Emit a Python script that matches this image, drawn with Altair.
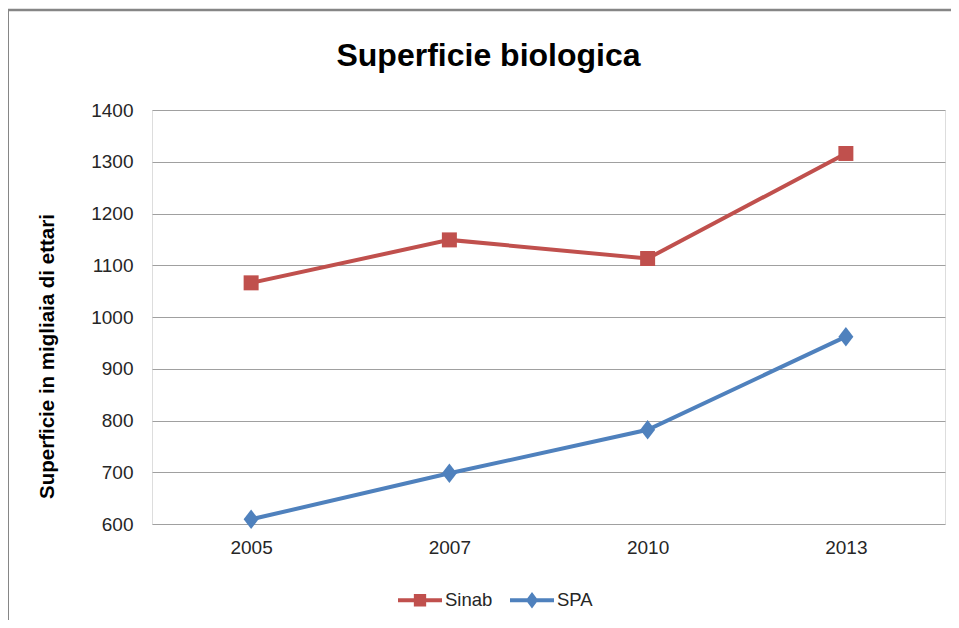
import altair as alt
import pandas as pd

years = ["2005", "2007", "2010", "2013"]
sinab = [1066, 1149, 1113, 1316]
spa = [609, 698, 782, 962]
series_names = ["Sinab", "SPA"]
series_colors = ["#C0504D", "#4F81BD"]
y_ticks = [600, 700, 800, 900, 1000, 1100, 1200, 1300, 1400]

rows = []
for name, vals in zip(series_names, [sinab, spa]):
    for yr, v in zip(years, vals):
        rows.append({"anno": yr, "valore": v, "serie": name})
df = pd.DataFrame(rows)

FONT = "Liberation Sans"
TXT = "#262626"

diamond = "M0,-1.3L1,0L0,1.3L-1,0Z"
leg_square = "M-1,-0.09H1V0.09H-1Z M-0.28,-0.28H0.28V0.28H-0.28Z"
leg_diamond = "M-1,-0.09H1V0.09H-1Z M0,-0.37L0.28,0L0,0.37L-0.28,0Z"

x_enc = alt.X("anno:O", sort=years,
              scale=alt.Scale(type="point", padding=0.5),
              axis=alt.Axis(title=None, labelAngle=0, ticks=False, domain=False,
                            grid=False, labelPadding=14, labelFontSize=19,
                            labelFont=FONT, labelColor=TXT))
y_enc = alt.Y("valore:Q",
              scale=alt.Scale(domain=[600, 1400], nice=False, zero=False),
              axis=alt.Axis(title="Superficie in migliaia di ettari", values=y_ticks,
                            format="d",
                            ticks=False, domain=False, grid=True, gridColor="#a0a0a0",
                            gridWidth=1, labelPadding=19, labelFontSize=19,
                            labelFont=FONT, labelColor=TXT,
                            titleFont=FONT, titleFontSize=20.5, titleFontWeight="bold",
                            titleColor="#000000", titleAngle=-90, titleBaseline="middle",
                            titleAlign="center", titleX=-105, titleY=246))

base = alt.Chart(df)

lines = base.mark_line(strokeWidth=4).encode(
    x=x_enc, y=y_enc,
    color=alt.Color("serie:N", scale=alt.Scale(domain=series_names, range=series_colors),
                    legend=None),
)

points = base.mark_point(filled=True, opacity=1, size=225).encode(
    x=x_enc, y=y_enc,
    color=alt.Color("serie:N", scale=alt.Scale(domain=series_names, range=series_colors),
                    legend=None),
    shape=alt.Shape("serie:N", scale=alt.Scale(domain=series_names, range=["square", diamond]),
                    legend=None),
)

leg = alt.Legend(title=None, orient="none", direction="horizontal",
                 legendX=246, legendY=468, padding=0,
                 symbolSize=1936, symbolStrokeWidth=0,
                 labelFont=FONT, labelFontSize=18.5, labelColor=TXT,
                 labelOffset=3, columnPadding=17)

legend_layer = base.transform_filter("false").mark_point(filled=True, opacity=1).encode(
    x=x_enc, y=y_enc,
    color=alt.Color("serie:N", scale=alt.Scale(domain=series_names, range=series_colors),
                    legend=leg),
    shape=alt.Shape("serie:N", scale=alt.Scale(domain=series_names, range=[leg_square, leg_diamond]),
                    legend=leg),
)

frame_df = pd.DataFrame({"k": [0]})
frame_left = alt.Chart(frame_df).mark_rule(color="#868686", strokeWidth=2).encode(
    x=alt.value(-144), y=alt.value(-100), y2=alt.value(520))
frame_top = alt.Chart(frame_df).mark_rule(color="#868686", strokeWidth=2.5).encode(
    x=alt.value(-145), x2=alt.value(820), y=alt.value(-100))

chart = alt.layer(lines, points, legend_layer, frame_left, frame_top).resolve_scale(
    color="independent", shape="independent"
).properties(
    width=793, height=414,
    autosize=alt.AutoSizeParams(type="none"),
    padding={"left": 144, "top": 102, "right": 6, "bottom": 96},
    title=alt.TitleParams("Superficie biologica", font=FONT, fontSize=32, fontWeight="bold",
                          color="#000000", anchor="middle", frame="group", dx=-60, dy=93,
                          baseline="alphabetic"),
).configure_view(stroke=None).configure(background="white")

chart.save("out.html", embed_options={"renderer": "svg", "actions": False})
